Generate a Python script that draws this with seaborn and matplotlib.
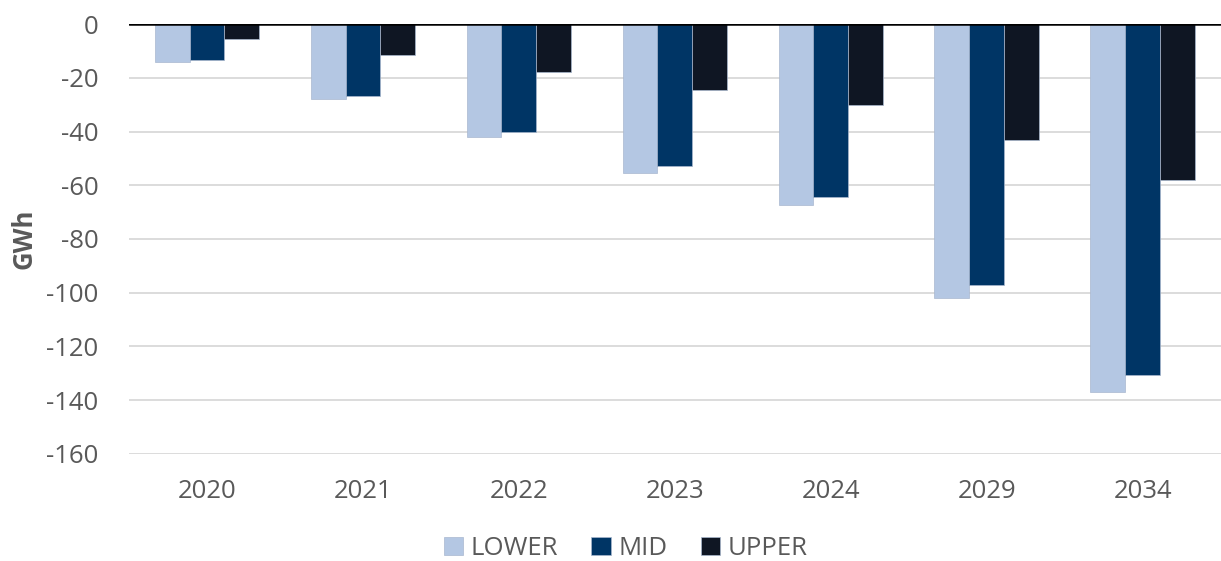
"""Annual energy change by scenario, grouped bar chart."""

import pandas as pd
import matplotlib.pyplot as plt
import seaborn as sns

years = ["2020", "2021", "2022", "2023", "2024", "2029", "2034"]
lower = [-14.0, -28.0, -42.0, -55.5, -67.5, -102.0, -137.0]
mid = [-13.2, -26.7, -40.0, -53.0, -64.5, -97.3, -130.7]
upper = [-5.4, -11.6, -18.0, -24.4, -30.1, -43.3, -58.1]
scenarios = ["LOWER", "MID", "UPPER"]
colors = ["#B4C7E3", "#003565", "#0F1623"]

df = pd.DataFrame({"year": years, "LOWER": lower, "MID": mid, "UPPER": upper})
df = df.melt(id_vars="year", var_name="scenario", value_name="gwh")

sns.set_style("white")
plt.rcParams["font.family"] = ["Open Sans", "DejaVu Sans"]
plt.rcParams["axes.unicode_minus"] = False
text_grey = "#595959"
fsize = 18.5

fig = plt.figure(figsize=(12.21, 5.61), dpi=100)
ax = fig.add_axes([0.1057, 0.191, 0.894, 0.766])

sns.barplot(
    data=df, x="year", y="gwh", hue="scenario", hue_order=scenarios,
    palette=colors, saturation=1, width=0.67, ax=ax, edgecolor="#A9B8CF",
    linewidth=0.5, zorder=3,
)

ax.set_ylim(-160, 0)
ax.set_yticks(range(-160, 1, 20))
ax.set_xlim(-0.5, len(years) - 0.5)
ax.yaxis.grid(True, color="#D9D9D9", linewidth=1.3, zorder=0)
ax.axhline(0, color="black", linewidth=1.8, zorder=4)
for s in ax.spines.values():
    s.set_visible(False)

ax.tick_params(axis="both", length=0, labelsize=fsize, labelcolor=text_grey)
ax.tick_params(axis="x", pad=18)
ax.tick_params(axis="y", pad=22)
ax.set_xlabel("")
ax.set_ylabel("GWh", fontsize=fsize, fontweight="bold", color=text_grey, labelpad=6)

ax.legend(
    loc="lower center", bbox_to_anchor=(0.455, -0.285), ncol=3, frameon=False,
    fontsize=fsize, labelcolor=text_grey, handlelength=0.75, handleheight=0.75,
    handletextpad=0.3, columnspacing=1.3, borderaxespad=0.2,
)

plt.savefig("out.png", dpi=100)
plt.close()
